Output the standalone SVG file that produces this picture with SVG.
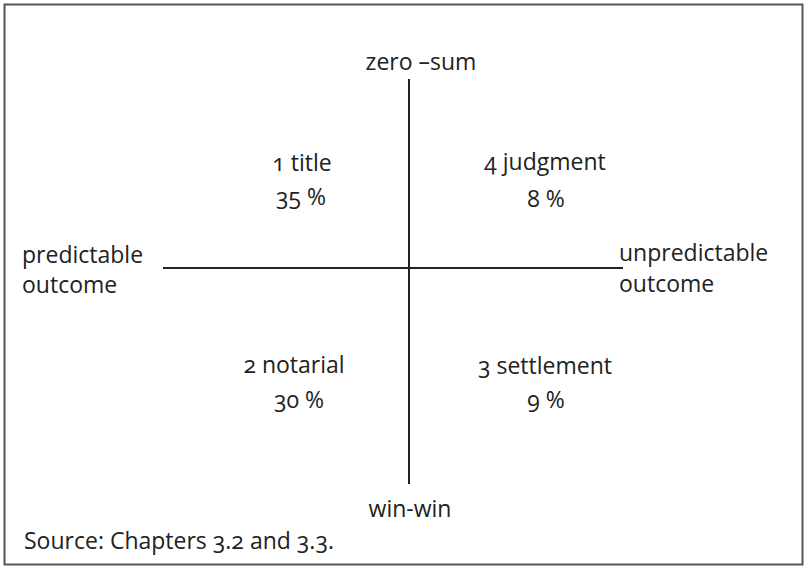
<svg xmlns="http://www.w3.org/2000/svg" width="805" height="568" viewBox="0 0 805 568">
<style>
text{font-family:"Open Sans","Liberation Sans",sans-serif;font-size:23px;fill:#222;font-variant-numeric:oldstyle-nums}
.c{text-anchor:middle}
.ax{stroke:#222;stroke-width:2;fill:none}
</style>
<rect x="0" y="0" width="805" height="568" fill="#fff"/>
<rect x="4.5" y="4.5" width="798" height="560" fill="none" stroke="#555" stroke-width="2"/>
<g id="connectors">
<line class="ax" x1="409" y1="79" x2="409" y2="484"/>
<line class="ax" x1="163" y1="268" x2="623" y2="268"/>
</g>
<g id="top"><text class="c" x="421" y="70">zero –sum</text></g>
<g id="bottom"><text class="c" x="410" y="517">win-win</text></g>
<g id="left"><text x="22" y="263">predictable</text><text x="22" y="293">outcome</text></g>
<g id="right"><text x="619" y="261">unpredictable</text><text x="619" y="292">outcome</text></g>
<g id="q1"><text class="c" x="302" y="171">1 title</text><text class="c" x="301" y="205">35 %</text></g>
<g id="q4"><text class="c" x="545" y="170">4 judgment</text><text class="c" x="546" y="207">8 %</text></g>
<g id="q2"><text class="c" x="294" y="373">2 notarial</text><text class="c" x="299" y="408">30 %</text></g>
<g id="q3"><text class="c" x="545" y="374">3 settlement</text><text class="c" x="546" y="408">9 %</text></g>
<g id="source"><text x="24" y="549">Source: Chapters 3.2 and 3.3.</text></g>
</svg>
